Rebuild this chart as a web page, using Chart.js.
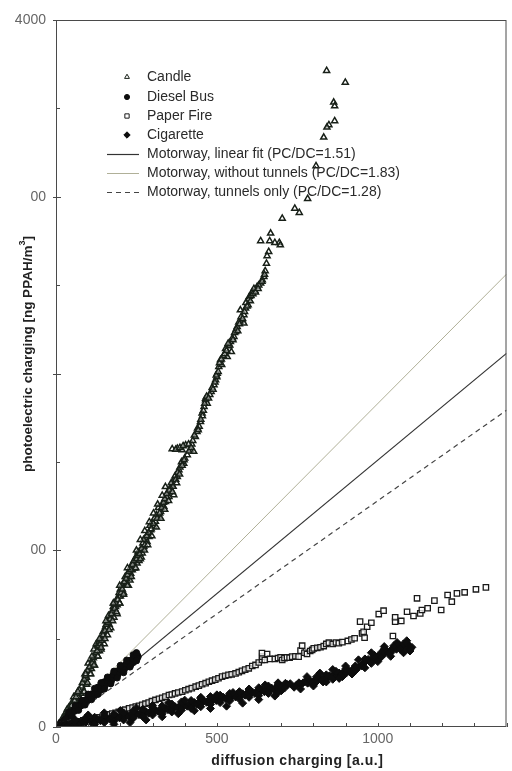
<!DOCTYPE html>
<html><head><meta charset="utf-8">
<script src="https://cdn.jsdelivr.net/npm/chart.js@4/dist/chart.umd.min.js"></script>
<style>html,body{margin:0;padding:0;background:#fff;}canvas{display:block;}</style>
</head><body>
<canvas id="c" width="512" height="771"></canvas>
<script>
// ---- data ----
const seriesNames = ['Candle', 'Diesel Bus', 'Paper Fire', 'Cigarette'];
const lineNames = ['Motorway, linear fit (PC/DC=1.51)', 'Motorway, without tunnels (PC/DC=1.83)', 'Motorway, tunnels only (PC/DC=1.28)'];
const lineSlopes = [1.51, 1.83, 1.28];
const xTicks = [0,100,200,300,400,500,600,700,800,900,1000,1100,1200,1300,1400];
const yTicks = [0,500,1000,1500,2000,2500,3000,3500,4000];
const yTickLabels = {4000:'4000', 3000:'00', 1000:'00', 0:'0'};
const xTickLabels = {0:'0', 500:'500', 1000:'1000'};

const candle = [
[841,3713],[899,3647],[863,3534],[866,3513],[866,3429],[848,3406],[842,3393],[832,3336],[808,3174],[782,2989],[742,2934],[756,2910],[703,2877],[667,2793],[636,2750],[664,2750],[694,2740],[697,2727],[661,2689],[656,2665],[654,2623],[646,2548],[641,2529],[636,2510],[625,2491],[618,2468],[610,2463],[601,2435],[599,2420],[597,2388],[589,2369],[573,2359],[584,2331],[578,2303],[573,2293],[584,2284],[563,2265],[558,2236],[553,2208],[542,2180],[537,2155],[545,2123],[532,2095],[511,2076],[506,2038],[501,2000],[496,1963],[491,1935],[482,1897],[465,1859],[465,1850],[460,1812],[454,1775],[449,1727],[438,1671],[433,1642],[403,1595],[377,1576],[361,1573],[392,1567],[418,1567],[428,1558],[408,1539],[397,1491],[382,1454],[377,1416],[366,1397],[361,1369],[340,1359],[366,1313],[351,1303],[340,1275],[335,1247],[325,1218],[320,1190],[309,1162],[304,1134],[294,1115],[289,1077],[283,1048],[273,1020],[268,983],[258,954],[252,926],[242,898],[237,888],[232,869],[222,841],[216,832],[211,803],[205,756],[185,681],[170,624],[154,567],[144,511],[128,454],[113,379],[102,322],[87,247],[77,190],[61,133],[25,28],
[95,280],[110,330],[120,400],[135,430],[140,500],[150,520],[160,600],[165,580],[175,650],[180,700],[190,690],[195,740],[200,780],[210,760],[215,850],[225,870],[230,900],[240,930],[248,960],[255,990],[70,170],[80,230],[90,300],[100,360],[108,350],[118,440],[125,470],[133,480],[147,540],[158,560],[163,630],[178,680],[188,720],[198,700],[205,800],[220,810],[228,850],[236,910],[245,945],[262,1000],[270,1040],[278,1070],[285,1090],[292,1140],[300,1160],[312,1200],[318,1240],[330,1260],[345,1300],[348,1330],[355,1350],[370,1420],[385,1470],[390,1500],[400,1520],[413,1560],[422,1600],[440,1690],[445,1700],[455,1760],[470,1830],[478,1880],[485,1920],[500,1980],[515,2050],[520,2100],[527,2140],[540,2160],[548,2200],[560,2250],[568,2290],[575,2320],[590,2400],[606,2440],[615,2480],[630,2500],[650,2580],[680,2740],[10,20],[20,50],[30,80],[40,110],[50,140],[55,170],[65,190],[45,90],[35,100],
[200,740],[225,800],[190,640],[180,620],[160,520],[170,560],[150,470],[140,440],[130,400],[120,350],[105,300],[95,240],[85,200],[75,160],[230,830],[245,900],[258,940],[265,960],
[28,60],[38,85],[48,120],[58,150],[62,170],[68,200],[72,210],[82,250],[88,270],[92,290],[98,320],[104,340],[112,360],[116,390],[124,420],[128,430],[132,460],[138,470],[142,490],[146,520],[152,545],[156,580],[162,590],[168,610],[172,640],[176,660],[182,670],[186,700],[192,720],[196,760],[202,760],[206,780],[212,820],[218,840],[222,860],[226,880],[232,890],[238,920],[242,940],[250,950],[254,970],[260,980],[266,1010],[272,1060],[276,1030],[282,1080],[288,1100],[296,1120],[302,1150],[306,1180],[314,1180],[322,1210],[328,1240],[334,1270],[338,1290],[344,1320],[352,1340],[358,1380],[364,1360],[372,1400],[378,1440],[384,1430],[392,1480],[398,1510],[372,1570],[385,1580],[395,1590],[412,1600],[420,1580],[425,1620],[430,1650],[442,1680],[450,1740],[458,1790],[462,1830],[468,1870],[474,1860],[488,1910],[494,1950],[498,1990],[504,2010],[508,2060],[514,2080],[524,2110],[530,2130],[535,2170],[550,2190],[555,2230],[565,2240],[570,2280],[580,2310],[586,2350],[594,2380],[604,2410],[612,2450],[620,2460],[628,2480],[640,2520],[648,2560],
[78,150],[88,200],[98,250],[108,300],[118,350],[130,400],[140,450],[152,500],[165,550],[176,600],[188,650],[198,700],[210,750],[222,800],[234,850],[248,900],[262,950],[275,1000],
[68,200],[92,300],[112,400],[135,500],[155,600],[178,700],[198,800],[222,900],[250,1000],
[285,1030],[298,1080],[312,1130],[326,1180],[338,1230],[350,1280],[362,1330],[375,1380],[262,1060],[276,1110],[290,1160],[303,1210],[316,1260],[330,1310]
];

const dieselBus = [
[15,25],[25,40],[35,55],[40,70],[50,80],[55,95],[60,100],[65,110],[70,115],[75,125],[80,130],[85,140],[90,150],[95,155],[100,165],[105,170],[110,180],[115,185],[120,195],[125,205],[130,210],[135,215],[140,225],[145,235],[150,240],[155,248],[160,255],[165,262],[170,270],[175,278],[180,285],[185,292],[190,300],[195,308],[200,315],[205,320],[210,330],[215,338],[220,345],[225,352],[230,360],[235,368],[240,378],[245,385],[250,395],[253,405],
[130,225],[150,255],[170,255],[190,315],[210,345],[230,375],[245,400],[120,180],[100,180],[140,210],[160,270],[180,300],[200,330],[220,360],[240,365],[255,398],
[30,45],[45,75],[58,90],[68,118],[78,120],[88,150],[98,150],[108,185],[118,190],[128,215],[138,230],[148,250],[158,262],[168,280],[178,295],[188,305],[198,325],[208,338],[218,355],[228,365],[238,385],[248,405],[112,170],[132,200],[152,232],[172,262],[192,295],[212,325],[232,352],[252,388],[60,110],[85,135],
[40,85],[60,120],[80,150],[100,185],[120,218],[140,250],[160,282],[180,315],[200,348],[220,378],[240,408],[250,420],
[50,60],[70,95],[90,125],[110,155],[130,185],[150,215],[170,245],[190,278],[210,308],[230,340],[250,375]
];

const paperFire = [
[10,8],[20,12],[30,17],[40,20],[50,24],[61,27],[72,32],[85,37],[95,40],[102,42],[115,47],[125,52],[135,55],[144,58],[155,65],[165,72],[175,76],[185,80],[195,86],[205,92],[215,98],[227,106],[238,110],[248,116],[258,120],[268,126],[278,132],[288,138],[298,146],[309,153],[320,160],[330,165],[340,172],[351,181],[360,184],[370,190],[380,195],[392,200],[402,208],[412,214],[422,220],[434,228],[444,234],[454,242],[465,248],[475,256],[485,262],[495,268],[505,276],[516,285],[526,290],[536,295],[546,298],[558,303],[568,310],[578,318],[588,325],[599,332],[610,345],[620,351],[630,365],[640,380],[641,398],[649,379],[656,413],[640,418],[665,385],[680,385],[690,390],[698,394],[703,379],[710,390],[718,394],[726,392],[734,398],[744,400],[754,398],[760,432],[765,460],[772,420],[780,413],[790,430],[796,436],[801,445],[812,448],[822,451],[832,458],[840,470],[848,477],[860,470],[870,478],[879,474],[890,480],[907,487],[918,495],[928,502],[945,596],[951,530],[956,539],[959,505],[967,567],[980,590],[1003,639],[1018,658],[1047,515],[1054,596],[1054,621],[1073,600],[1091,652],[1111,628],[1122,728],[1132,643],[1137,662],[1155,672],[1176,715],[1197,662],[1217,747],[1230,709],[1246,756],[1270,762],[1305,779],[1336,790]
];

const cigarette = [
[10,5],[18,10],[25,8],[32,15],[40,12],[48,20],[55,15],[62,22],[70,25],[78,20],[85,30],[92,26],[100,33],[108,28],[115,38],[122,32],[130,42],[138,36],[145,45],[152,40],[160,50],[168,44],[175,55],[182,48],[190,58],[198,52],[205,62],[212,56],[220,68],[228,60],[235,72],[242,65],[250,78],[258,70],[265,82],[272,74],[280,86],[288,78],[295,90],[302,84],[310,95],[318,88],[325,100],[332,92],[340,105],[348,98],[355,110],[362,102],[370,115],[378,108],[385,120],[392,112],[400,125],[408,118],[415,130],[422,122],[430,138],[438,128],[445,142],[452,134],[460,148],[468,140],[475,152],[482,145],[490,158],[498,150],[505,162],[512,155],[520,168],[528,160],[535,172],[542,165],[550,178],[558,170],[565,182],[572,175],[580,188],[588,180],[595,192],[602,185],[610,198],[618,190],[625,202],[632,195],[640,210],[648,200],[655,215],[662,205],[670,220],[678,210],[685,225],[692,215],[700,205],[713,247],[720,240],[728,245],[748,238],[760,240],[768,250],[775,258],[782,248],[790,262],[798,255],[805,268],[812,262],[820,275],[828,268],[835,282],[842,275],[850,290],[858,284],[865,298],[872,290],[880,305],[888,298],[895,312],[902,305],[910,320],[918,314],[925,330],[932,322],[941,341],[956,360],[962,372],[970,382],[978,375],[985,392],[992,385],[1000,400],[1008,410],[1013,426],[1020,415],[1028,430],[1035,422],[1042,438],[1050,445],[1058,440],[1065,464],[1072,455],[1080,460],[1088,450],[1095,462],[1106,451],
[60,40],[90,48],[120,55],[150,62],[180,72],[210,80],[240,90],[270,100],[300,110],[330,120],[360,130],[390,142],[420,150],[450,162],[480,172],[510,180],[540,190],[570,200],[600,210],[630,222],[660,232],[690,238],
[120,15],[150,25],[180,32],[210,40],[240,50],[270,58],[300,68],[330,75],[360,85],[390,95],[420,105],[450,115],[480,128],[510,138],[540,148],[570,158],[600,168],[630,178],[660,190],[690,195],
[800,240],[830,255],[860,270],[890,285],[920,300],[950,345],[980,360],[1010,395],[1040,420],[1070,440],[1100,440],[810,285],[840,295],[870,315],[900,328],[930,345],[960,385],[990,405],[1020,440],[1050,460],[1080,470],[1090,475],[740,225],[755,250],[700,230],[710,220],
[100,68],[150,80],[200,93],[250,108],[300,122],[350,137],[400,152],[450,168],[500,182],[550,195],[600,215],[650,238],[690,250],
[180,15],[230,25],[280,40],[330,58],[380,75],[430,92],[480,105],[530,118],[580,135],[630,155],[680,175],
[780,285],[820,305],[860,325],[900,345],[940,380],[980,420],[1020,455],[1060,478],[1090,488],
[760,215],[800,232],[840,255],[880,275],[920,300],[960,335],[1000,370],[1040,400],[1080,420],[1100,430]
];

// ---- styles ----
const toXY = a => a.map(p => ({x: p[0], y: p[1]}));
const xMax = 1400;
const lineColors = ['#333333', '#b0b098', '#444444'];
const lineDash = [[], [], [5, 4]];
const FONT = '"Liberation Sans", Arial, sans-serif';

const datasets = [
  {label: seriesNames[0], data: toXY(candle), pointStyle: 'triangle', pointRadius: 3.5, borderWidth: 1.5, borderColor: '#182018', backgroundColor: 'rgba(255,255,255,0.45)', order: 4},
  {label: seriesNames[1], data: toXY(dieselBus), pointStyle: 'circle', pointRadius: 3.2, borderWidth: 1, borderColor: '#0d0d0d', backgroundColor: '#0d0d0d', order: 3},
  {label: seriesNames[2], data: toXY(paperFire), pointStyle: 'rect', pointRadius: 3.8, borderWidth: 1.3, borderColor: '#1a1a1a', backgroundColor: 'rgba(255,255,255,0.75)', order: 2},
  {label: seriesNames[3], data: toXY(cigarette), pointStyle: 'rectRot', pointRadius: 4, borderWidth: 1, borderColor: '#0d0d0d', backgroundColor: '#0d0d0d', order: 1},
];
lineNames.forEach((n, i) => {
  datasets.push({type: 'line', label: n, data: [{x: 0, y: 0}, {x: xMax, y: lineSlopes[i] * xMax}],
    borderColor: lineColors[i], borderWidth: i === 1 ? 1 : 1.2, borderDash: lineDash[i], pointRadius: 0, fill: false, order: 10 + i});
});

const framePlugin = {
  id: 'frame',
  afterDraw(chart) {
    const {ctx, chartArea: a, scales: {x, y}} = chart;
    ctx.save();
    ctx.strokeStyle = '#4a4a4a'; ctx.lineWidth = 1;
    ctx.strokeRect(a.left + 0.5, a.top + 0.5, a.right - a.left - 1, a.bottom - a.top - 1);
    ctx.beginPath();
    xTicks.forEach(v => { const px = Math.round(x.getPixelForValue(v)) + 0.5; ctx.moveTo(px, a.bottom); ctx.lineTo(px, a.bottom - 4); });
    yTicks.forEach(v => { const py = Math.round(y.getPixelForValue(v)) + 0.5; const major = v % 1000 === 0;
      ctx.moveTo(a.left - (major ? 3 : 0), py); ctx.lineTo(a.left + (major ? 5 : 4), py); });
    ctx.stroke();

    // axis titles
    ctx.fillStyle = '#222';
    ctx.font = 'bold 14px ' + FONT;
    ctx.letterSpacing = '0.5px';
    ctx.textAlign = 'center'; ctx.textBaseline = 'middle';
    ctx.fillText('diffusion charging [a.u.]', x.getPixelForValue(750), 761);
    ctx.letterSpacing = '0px';

    ctx.translate(28, 354);
    ctx.rotate(-Math.PI / 2);
    const main = 'photoelectric charging [ng PPAH/m', sup = '3', end = ']';
    ctx.font = 'bold 13.5px ' + FONT;
    const w1 = ctx.measureText(main).width, w3 = ctx.measureText(end).width;
    ctx.font = 'bold 9px ' + FONT;
    const w2 = ctx.measureText(sup).width;
    let sx = -(w1 + w2 + w3) / 2;
    ctx.textAlign = 'left';
    ctx.font = 'bold 13.5px ' + FONT;
    ctx.fillText(main, sx, 0); sx += w1;
    ctx.font = 'bold 9px ' + FONT;
    ctx.fillText(sup, sx, -5); sx += w2;
    ctx.font = 'bold 13.5px ' + FONT;
    ctx.fillText(end, sx, 0);
    ctx.restore();

    // legend
    ctx.save();
    const rowY = [77, 97, 116, 135, 154, 173, 192];
    const symX = 127, textX = 147;
    ctx.font = '14px ' + FONT;
    ctx.textAlign = 'left'; ctx.textBaseline = 'middle';
    chart.data.datasets.forEach((ds, i) => {
      const yy = rowY[i];
      ctx.save();
      if (ds.type === 'line') {
        ctx.strokeStyle = ds.borderColor; ctx.lineWidth = ds.borderWidth; ctx.setLineDash(ds.borderDash);
        ctx.beginPath(); ctx.moveTo(107, yy + 0.5); ctx.lineTo(139, yy + 0.5); ctx.stroke();
      } else {
        ctx.fillStyle = ds.backgroundColor; ctx.strokeStyle = ds.borderColor;
        ctx.lineWidth = 1;
        Chart.helpers.drawPoint(ctx, {pointStyle: ds.pointStyle, radius: ds.pointRadius * 0.8, borderWidth: 1, rotation: 0}, symX, yy);
      }
      ctx.restore();
      ctx.fillStyle = '#2a2a2a';
      ctx.fillText(ds.label, textX, yy);
    });
    ctx.restore();
  }
};

new Chart(document.getElementById('c'), {
  type: 'scatter',
  data: {datasets},
  options: {
    responsive: false, animation: false,
    layout: {padding: {top: 20, right: 4, left: 0, bottom: 0}},
    plugins: {legend: {display: false}, tooltip: {enabled: false}},
    scales: {
      x: {type: 'linear', min: 0, max: xMax,
        afterFit: s => { s.height = 44; },
        grid: {display: false, drawTicks: false}, border: {display: false},
        ticks: {stepSize: 100, autoSkip: false, maxRotation: 0, padding: 4, color: '#666',
          font: {family: FONT, size: 14},
          callback: v => xTickLabels[v] !== undefined ? xTickLabels[v] : ''}},
      y: {type: 'linear', min: 0, max: 4000,
        afterFit: s => { s.width = 56; },
        grid: {display: false, drawTicks: false}, border: {display: false},
        ticks: {stepSize: 500, autoSkip: false, padding: 10, color: '#666',
          font: {family: FONT, size: 14},
          callback: v => yTickLabels[v] !== undefined ? yTickLabels[v] : ''}}
    }
  },
  plugins: [framePlugin]
});
</script>
</body></html>
